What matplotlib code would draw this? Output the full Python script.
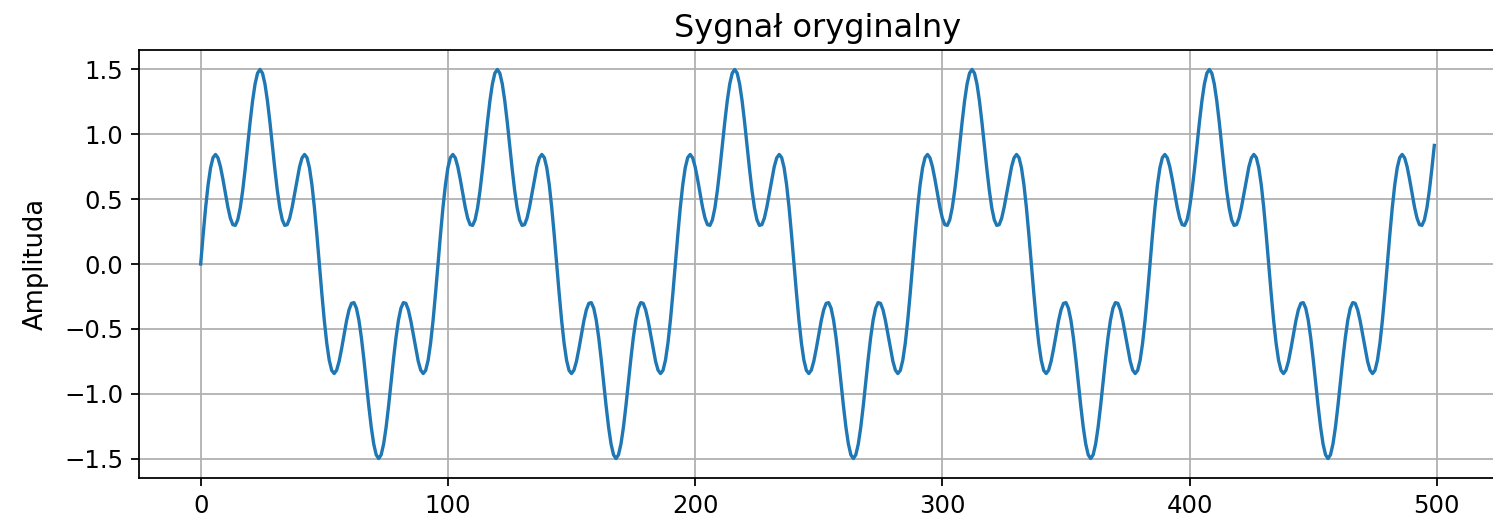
import numpy as np
import matplotlib
matplotlib.use("Agg")
import matplotlib.pyplot as plt

# Signal: 500 samples, period of ~96 samples,
# fundamental amplitude 1.0 plus 5th harmonic of amplitude 0.5
n_samples = 500
period_samples = [96.0]
harmonic_numbers = [1, 5]
harmonic_amplitudes = [1.0, 0.5]
title_text = "Sygnał oryginalny"
ylabel_text = "Amplituda"
x_ticks = [0, 100, 200, 300, 400, 500]
y_ticks = [-1.5, -1.0, -0.5, 0.0, 0.5, 1.0, 1.5]

n = np.arange(n_samples)
signal = np.zeros(n_samples)
for h, a in zip(harmonic_numbers, harmonic_amplitudes):
    signal += a * np.sin(2 * np.pi * h * n / period_samples[0])

s = 1.6
fig = plt.figure(figsize=(14.93, 5.21), dpi=100)
ax = fig.add_axes([139 / 1493, 43 / 521, (1496 - 139) / 1493, (478 - 50) / 521])
ax.plot(n, signal, color="#1f77b4", linewidth=1.5 * s)
ax.set_title(title_text, fontsize=23, pad=6 * s)
ax.set_ylabel(ylabel_text, fontsize=18.5, labelpad=7 * s)
ax.set_xticks(x_ticks)
ax.set_yticks(y_ticks)
ax.tick_params(labelsize=17.6, width=0.8 * s, length=3.5 * s, pad=3.5 * s)
for sp in ax.spines.values():
    sp.set_linewidth(0.8 * s)
ax.grid(True, color="#b0b0b0", linewidth=0.8 * s)
fig.savefig("out.png", dpi=100)
